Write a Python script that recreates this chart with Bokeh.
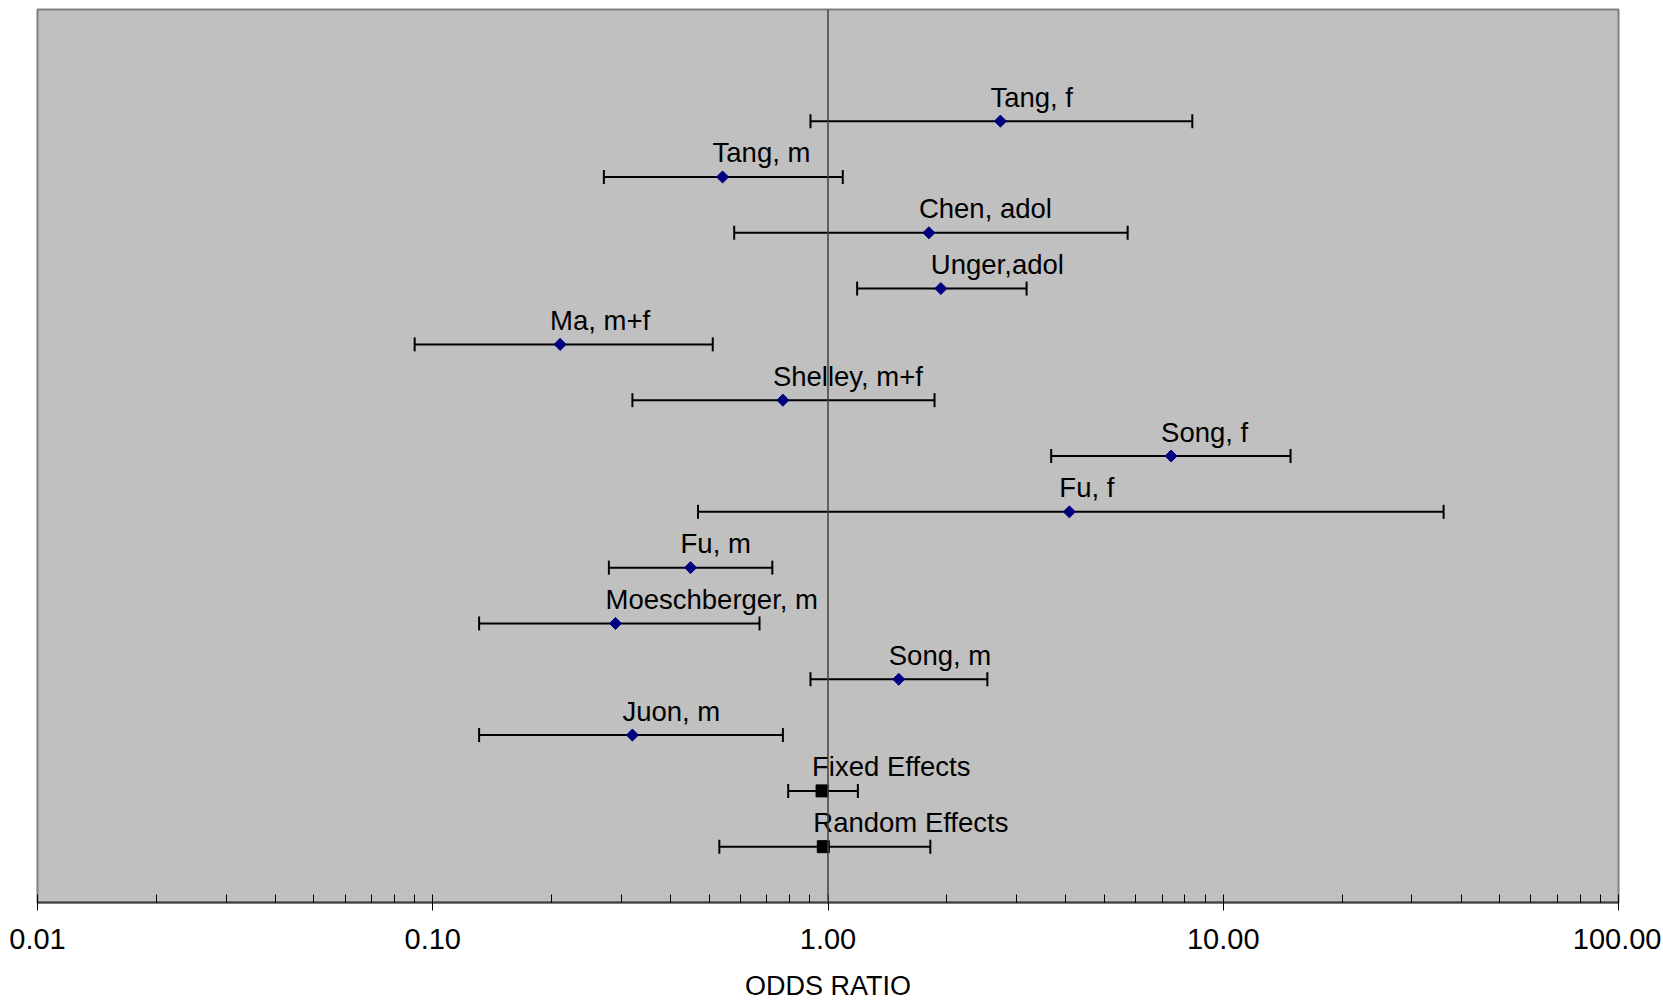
import math
from bokeh.plotting import figure
from bokeh.models import ColumnDataSource, FixedTicker, Span, Range1d
from bokeh.core.properties import value
from bokeh.embed import file_html
from bokeh.resources import INLINE

studies = ["Tang, f", "Tang, m", "Chen, adol", "Unger,adol", "Ma, m+f", "Shelley, m+f",
           "Song, f", "Fu, f", "Fu, m", "Moeschberger, m", "Song, m", "Juon, m"]
study_or = [2.73, 0.541, 1.80, 1.93, 0.210, 0.769, 7.38, 4.08, 0.449, 0.290, 1.51, 0.320]
study_lo = [0.903, 0.271, 0.579, 1.185, 0.090, 0.320, 3.67, 0.469, 0.279, 0.131, 0.903, 0.131]
study_hi = [8.35, 1.09, 5.73, 3.18, 0.511, 1.86, 14.8, 36.1, 0.723, 0.671, 2.53, 0.769]
study_row = [14, 13, 12, 11, 10, 9, 8, 7, 6, 5, 4, 3]

pooled = ["Fixed Effects", "Random Effects"]
pooled_or = [0.966, 0.973]
pooled_lo = [0.793, 0.531]
pooled_hi = [1.19, 1.815]
pooled_row = [2, 1]

major_ticks = [0.01, 0.1, 1, 10, 100]
tick_labels = ["0.01", "0.10", "1.00", "10.00", "100.00"]

FONT = "Liberation Sans"

p = figure(width=1661, height=1003, x_axis_type="log", output_backend="svg",
           toolbar_location=None, x_range=Range1d(0.01, 100), y_range=Range1d(0, 16),
           min_border_left=37, min_border_right=43, min_border_top=9, min_border_bottom=60)
p.border_fill_color = "white"
p.background_fill_color = "#C0C0C0"
p.outline_line_color = "#808080"
p.outline_line_width = 2
p.xgrid.visible = False
p.ygrid.visible = False
p.yaxis.visible = False

minor = []
for d in [0.01, 0.1, 1, 10]:
    for k in range(2, 10):
        minor.append(d * k)
p.xaxis.ticker = FixedTicker(ticks=major_ticks, minor_ticks=minor)
p.xaxis.major_label_overrides = {t: l for t, l in zip(major_ticks, tick_labels)}
p.xaxis.major_label_text_font = FONT
p.xaxis.major_label_text_font_size = "29px"
p.xaxis.major_label_text_color = "black"
p.xaxis.major_label_standoff = 18
p.xaxis.axis_label = "ODDS RATIO"
p.xaxis.axis_label_text_font = FONT
p.xaxis.axis_label_text_font_size = "27px"
p.xaxis.axis_label_text_font_style = "normal"
p.xaxis.axis_label_text_color = "black"
p.xaxis.axis_label_standoff = 19
p.xaxis.axis_line_color = "#404040"
p.xaxis.axis_line_width = 2
p.xaxis.major_tick_in = 8
p.xaxis.major_tick_out = 8
p.xaxis.minor_tick_in = 8
p.xaxis.minor_tick_out = 0
p.xaxis.major_tick_line_color = "black"
p.xaxis.minor_tick_line_color = "black"

p.add_layout(Span(location=1, dimension="height", line_color="#404040", line_width=1.5))

s = ColumnDataSource(dict(name=studies, o=study_or, lo=study_lo, hi=study_hi, y=study_row))
q = ColumnDataSource(dict(name=pooled, o=pooled_or, lo=pooled_lo, hi=pooled_hi, y=pooled_row))

for src in (s, q):
    p.segment(x0="lo", x1="hi", y0="y", y1="y", source=src, line_color="black", line_width=2)
    p.scatter(x="lo", y="y", source=src, marker="dash", angle=math.pi / 2, size=14,
              line_color="black", line_width=2)
    p.scatter(x="hi", y="y", source=src, marker="dash", angle=math.pi / 2, size=14,
              line_color="black", line_width=2)
    p.text(x="o", y="y", text="name", source=src, x_offset=-10, y_offset=-24,
           text_font=value(FONT), text_font_size="27.5px", text_color="black",
           text_align="left", text_baseline="alphabetic")

p.scatter(x="o", y="y", source=s, marker="square", angle=math.pi / 4, size=8.5,
          fill_color="#000080", line_color="#000080")
p.scatter(x="o", y="y", source=q, marker="square", size=12,
          fill_color="black", line_color="black")

open("out.html", "w").write(file_html(p, INLINE))
